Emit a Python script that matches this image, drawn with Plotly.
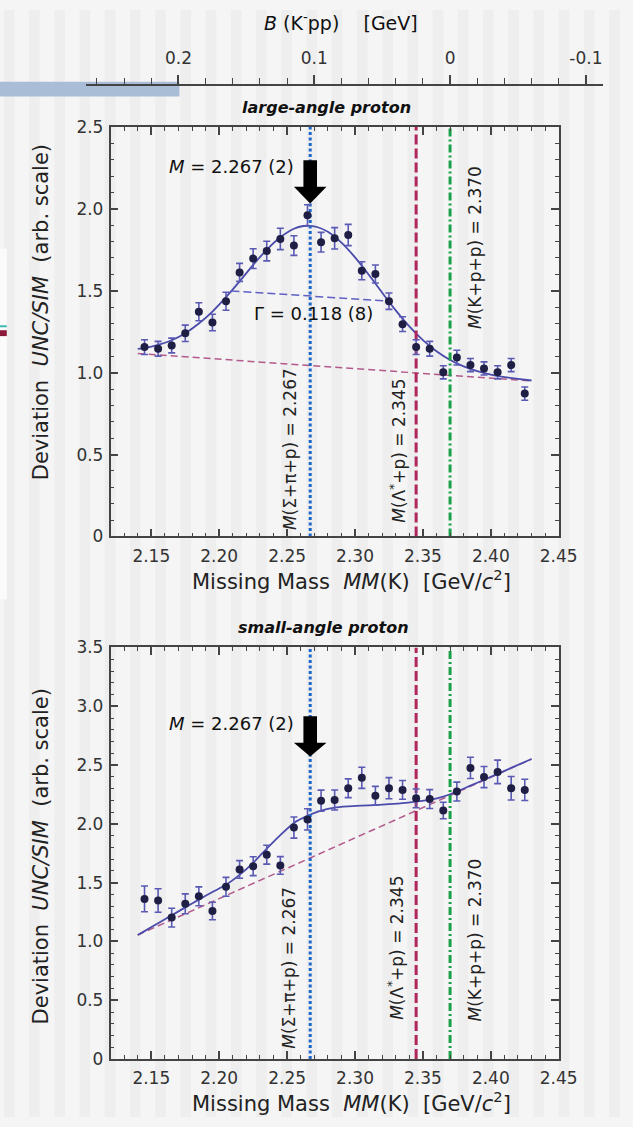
import plotly.graph_objects as go

W, H = 633, 1127
FONT = "DejaVu Sans"

# ---------------- data ----------------
mm = [2.145, 2.155, 2.165, 2.175, 2.185, 2.195, 2.205, 2.215, 2.225, 2.235,
      2.245, 2.255, 2.265, 2.275, 2.285, 2.295, 2.305, 2.315, 2.325, 2.335,
      2.345, 2.355, 2.365, 2.375, 2.385, 2.395, 2.405, 2.415, 2.425]

large_y = [1.156, 1.146, 1.166, 1.240, 1.372, 1.306, 1.436, 1.612, 1.696, 1.742,
           1.816, 1.776, 1.960, 1.796, 1.820, 1.840, 1.622, 1.602, 1.436, 1.296,
           1.156, 1.146, 1.002, 1.092, 1.046, 1.026, 1.002, 1.046, 0.872]
large_err = [0.045, 0.045, 0.045, 0.050, 0.055, 0.050, 0.055, 0.055, 0.060, 0.060,
             0.065, 0.060, 0.065, 0.060, 0.065, 0.065, 0.055, 0.055, 0.050, 0.045,
             0.045, 0.045, 0.040, 0.045, 0.040, 0.040, 0.040, 0.040, 0.040]

small_y = [1.362, 1.348, 1.203, 1.320, 1.384, 1.259, 1.465, 1.612, 1.640, 1.738,
           1.646, 1.969, 2.038, 2.197, 2.203, 2.303, 2.392, 2.239, 2.303, 2.289,
           2.217, 2.211, 2.114, 2.275, 2.476, 2.398, 2.442, 2.303, 2.289]
small_err = [0.110, 0.100, 0.080, 0.085, 0.080, 0.075, 0.080, 0.075, 0.080, 0.080,
             0.075, 0.090, 0.090, 0.090, 0.085, 0.080, 0.090, 0.080, 0.090, 0.080,
             0.080, 0.080, 0.070, 0.080, 0.090, 0.090, 0.100, 0.100, 0.090]

large_fit_x = [2.140, 2.145, 2.155, 2.165, 2.175, 2.185, 2.195, 2.205, 2.215, 2.225,
               2.235, 2.245, 2.255, 2.262, 2.267, 2.272, 2.280, 2.290, 2.300, 2.310,
               2.320, 2.330, 2.340, 2.350, 2.360, 2.370, 2.380, 2.390, 2.400, 2.410,
               2.420, 2.430]
large_fit_y = [1.145, 1.150, 1.169, 1.198, 1.241, 1.300, 1.373, 1.461, 1.557, 1.658,
               1.750, 1.826, 1.878, 1.895, 1.896, 1.889, 1.860, 1.794, 1.704, 1.599,
               1.488, 1.380, 1.282, 1.198, 1.130, 1.077, 1.038, 1.009, 0.988, 0.973,
               0.962, 0.952]
large_bg_x = [2.140, 2.430]
large_bg_y = [1.117, 0.949]
gamma_x = [2.209, 2.325]
gamma_y = [1.499, 1.436]

small_fit_x = [2.140, 2.145, 2.155, 2.165, 2.175, 2.185, 2.195, 2.205, 2.215, 2.225,
               2.235, 2.245, 2.255, 2.265, 2.275, 2.285, 2.295, 2.305, 2.315, 2.325,
               2.335, 2.345, 2.355, 2.365, 2.375, 2.385, 2.395, 2.405, 2.415, 2.430]
small_fit_y = [1.055, 1.088, 1.155, 1.222, 1.290, 1.356, 1.420, 1.482, 1.566, 1.668,
               1.790, 1.905, 2.008, 2.068, 2.112, 2.139, 2.149, 2.155, 2.160, 2.168,
               2.177, 2.190, 2.205, 2.232, 2.275, 2.325, 2.375, 2.425, 2.476, 2.552]
small_bg_x = [2.140, 2.430]
small_bg_y = [1.055, 2.551]

peak_M = 2.267
thr_mass = [2.267, 2.345, 2.370]
thr_label = ["<i>M</i>(\u03a3+\u03c0+p) = 2.267",
             "<i>M</i>(\u039b<sup>*</sup>+p) = 2.345",
             "<i>M</i>(K+p+p) = 2.370"]
thr_color = ["#1c66c9", "#b0265c", "#1aa048"]
thr_dash = ["3px,2.5px", "10px,4px", "8px,3px,2px,3px"]

x_ticks = [2.15, 2.20, 2.25, 2.30, 2.35, 2.40, 2.45]
x_ticktext = ["2.15", "2.20", "2.25", "2.30", "2.35", "2.40", "2.45"]
large_yticks = [0, 0.5, 1.0, 1.5, 2.0, 2.5]
large_yticktext = ["0", "0.5", "1.0", "1.5", "2.0", "2.5"]
small_yticks = [0, 0.5, 1.0, 1.5, 2.0, 2.5, 3.0, 3.5]
small_yticktext = ["0", "0.5", "1.0", "1.5", "2.0", "2.5", "3.0", "3.5"]
b_ticks = [0.2, 0.1, 0.0, -0.1]
b_ticktext = ["0.2", "0.1", "0", "-0.1"]


# ---------------- helpers (pixel -> paper) ----------------
def fx(p):
    return p / W


def fy(p):
    return 1 - p / H


fig = go.Figure()

MARK = "#1f1f45"
ERR = "#5a5ab4"
FIT = "#4b4bab"
BG = "#b35a8c"

panels = [
    dict(xa="x", ya="y", y=large_y, e=large_err, fx_=large_fit_x, fy_=large_fit_y,
         bx=large_bg_x, by=large_bg_y, ymax=2.5),
    dict(xa="x2", ya="y2", y=small_y, e=small_err, fx_=small_fit_x, fy_=small_fit_y,
         bx=small_bg_x, by=small_bg_y, ymax=3.5),
]

for i, p in enumerate(panels):
    fig.add_trace(go.Scatter(x=p["bx"], y=p["by"], mode="lines", xaxis=p["xa"], yaxis=p["ya"],
                             line=dict(color=BG, width=1.5, dash="7px,4px"), hoverinfo="skip"))
    fig.add_trace(go.Scatter(x=p["fx_"], y=p["fy_"], mode="lines", xaxis=p["xa"], yaxis=p["ya"],
                             line=dict(color=FIT, width=1.8, shape="spline", smoothing=0.6),
                             hoverinfo="skip"))
    if i == 0:
        fig.add_trace(go.Scatter(x=gamma_x, y=gamma_y, mode="lines", xaxis="x", yaxis="y",
                                 line=dict(color="#5f5fc4", width=1.5, dash="8px,4px"),
                                 hoverinfo="skip"))
    for m, c, d in zip(thr_mass, thr_color, thr_dash):
        fig.add_trace(go.Scatter(x=[m, m], y=[0, p["ymax"]], mode="lines",
                                 xaxis=p["xa"], yaxis=p["ya"],
                                 line=dict(color=c, width=3, dash=d), hoverinfo="skip"))
    fig.add_trace(go.Scatter(x=mm, y=p["y"], mode="markers", xaxis=p["xa"], yaxis=p["ya"],
                             marker=dict(color=MARK, size=8),
                             error_y=dict(type="data", array=p["e"], color=ERR,
                                          thickness=1.6, width=3.5)))

# invisible trace to create the B(K-pp) axis subplot
fig.add_trace(go.Scatter(x=[0.0], y=[0.5], xaxis="x3", yaxis="y3", mode="markers",
                         marker=dict(opacity=0), hoverinfo="skip"))

X_DOM = [fx(114), fx(576)]
AX = "#444444"
TICKFONT = dict(family=FONT, size=17, color="#333333")


def xax(anchor):
    return dict(domain=X_DOM, anchor=anchor, range=[2.12, 2.45],
                tickmode="array", tickvals=x_ticks, ticktext=x_ticktext,
                ticks="inside", ticklen=8, tickwidth=1.5, tickcolor=AX,
                showline=True, linecolor=AX, linewidth=1.5, mirror="ticks",
                showgrid=False, zeroline=False, tickfont=TICKFONT,
                ticklabelstandoff=3,
                minor=dict(tickmode="linear", tick0=2.15, dtick=0.01, ticks="inside",
                           ticklen=4, tickwidth=1.2, tickcolor=AX, showgrid=False))


def yax(anchor, dom, rng, tv, tt):
    return dict(domain=dom, anchor=anchor, range=rng,
                tickmode="array", tickvals=tv, ticktext=tt,
                ticks="inside", ticklen=8, tickwidth=1.5, tickcolor=AX,
                showline=True, linecolor=AX, linewidth=1.5, mirror="ticks",
                showgrid=False, zeroline=False, tickfont=TICKFONT,
                ticklabelstandoff=2,
                minor=dict(tickmode="linear", tick0=0, dtick=0.1, ticks="inside",
                           ticklen=4, tickwidth=1.2, tickcolor=AX, showgrid=False))


shapes = []
# slide background stripes
for sx in range(4, W, 26):
    shapes.append(dict(type="rect", xref="paper", yref="paper", x0=fx(sx), x1=fx(sx + 11),
                       y0=0, y1=1, fillcolor="#eeeeee", line=dict(width=0), layer="below"))
# slide decorations
shapes.append(dict(type="rect", xref="paper", yref="paper", x0=0, x1=fx(185), y0=fy(88), y1=fy(73),
                   fillcolor="#a9bed6", line=dict(width=0), layer="below"))
shapes.append(dict(type="rect", xref="paper", yref="paper", x0=0, x1=fx(7), y0=fy(600), y1=fy(243),
                   fillcolor="#fbfbfb", line=dict(width=0), layer="below"))
shapes.append(dict(type="rect", xref="paper", yref="paper", x0=0, x1=fx(7), y0=fy(323), y1=fy(321),
                   fillcolor="#3fb8b0", line=dict(width=0), layer="below"))
shapes.append(dict(type="rect", xref="paper", yref="paper", x0=0, x1=fx(7), y0=fy(332), y1=fy(326),
                   fillcolor="#8b1a3a", line=dict(width=0), layer="below"))


def arrow(xr, yr, top, base, tip):
    M = peak_M
    path = (f"M {M-0.005},{top} L {M+0.005},{top} L {M+0.005},{base} L {M+0.012},{base} "
            f"L {M},{tip} L {M-0.012},{base} L {M-0.005},{base} Z")
    return dict(type="path", xref=xr, yref=yr, path=path, fillcolor="#000000",
                line=dict(width=0), layer="above")


shapes.append(arrow("x", "y", 2.296, 2.134, 2.032))
shapes.append(arrow("x2", "y2", 2.915, 2.690, 2.573))

ann = []


def ptext(text, x, y, size, angle=0, color="#111111", xanchor="center"):
    ann.append(dict(text=text, xref="paper", yref="paper", x=fx(x), y=fy(y),
                    xanchor=xanchor, yanchor="middle", showarrow=False, textangle=angle,
                    font=dict(family=FONT, size=size, color=color)))


ptext("<i>B</i> (K<sup>-</sup>pp)    [GeV]", 352, 12, 19)
ptext("<b><i>large-angle proton</i></b>", 337, 99, 16)
ptext("<b><i>small-angle proton</i></b>", 333, 629, 16)
ptext("Deviation  <i>UNC/SIM</i>  (arb. scale)", 42, 308, 21, angle=-90, color="#222222")
ptext("Deviation  <i>UNC/SIM</i>  (arb. scale)", 42, 862, 21, angle=-90, color="#222222")
ptext("Missing Mass  <i>MM</i>(K)  [GeV/<i>c</i><sup>2</sup>]", 362, 580, 21, color="#222222")
ptext("Missing Mass  <i>MM</i>(K)  [GeV/<i>c</i><sup>2</sup>]", 362, 1112, 21, color="#222222")

# threshold labels (rotated)
for lab, (x, y) in zip(thr_label, [(299, 447), (410, 449), (489, 242)]):
    ptext(lab, x, y, 17, angle=-90, color="#222222")
for lab, (x, y) in zip(thr_label, [(298, 975), (408, 955), (490, 947)]):
    ptext(lab, x, y, 17, angle=-90, color="#222222")

for xr, yr, yv in [("x", "y", 2.26), ("x2", "y2", 2.855)]:
    ann.append(dict(text="<i>M</i> = 2.267 (2)", xref=xr, yref=yr, x=peak_M - 0.0105, y=yv,
                    xanchor="right", yanchor="middle", showarrow=False,
                    font=dict(family=FONT, size=18, color="#111111")))
ann.append(dict(text="\u0393 = 0.118 (8)", xref="x", yref="y", x=peak_M + 0.0026, y=1.361,
                xanchor="center", yanchor="middle", showarrow=False,
                font=dict(family=FONT, size=18, color="#111111")))

fig.update_layout(
    width=W, height=H, autosize=False,
    margin=dict(l=0, r=0, t=0, b=0),
    paper_bgcolor="#f5f5f5", plot_bgcolor="rgba(0,0,0,0)",
    showlegend=False,
    font=dict(family=FONT, color="#222222"),
    xaxis=xax("y"),
    yaxis=yax("x", [fy(536), fy(119)], [0, 2.5], large_yticks, large_yticktext),
    xaxis2=xax("y2"),
    yaxis2=yax("x2", [fy(1068), fy(649)], [0, 3.5], small_yticks, small_yticktext),
    xaxis3=dict(domain=[fx(89), fx(622)], anchor="y3", side="top",
                range=[(464 - 89) / 1400, (464 - 622) / 1400],
                tickmode="array", tickvals=b_ticks, ticktext=b_ticktext,
                ticks="outside", ticklen=9, tickwidth=1.5, tickcolor=AX,
                showline=True, linecolor=AX, linewidth=1.5,
                showgrid=False, zeroline=False, tickfont=TICKFONT, ticklabelstandoff=4,
                minor=dict(tickmode="linear", tick0=0, dtick=0.02, ticks="outside",
                           ticklen=6, tickwidth=1.2, tickcolor=AX, showgrid=False)),
    yaxis3=dict(domain=[fy(78), fy(77)], anchor="x3", visible=False, range=[0, 1]),
    shapes=shapes,
    annotations=ann,
)

fig.write_html("out.html")
